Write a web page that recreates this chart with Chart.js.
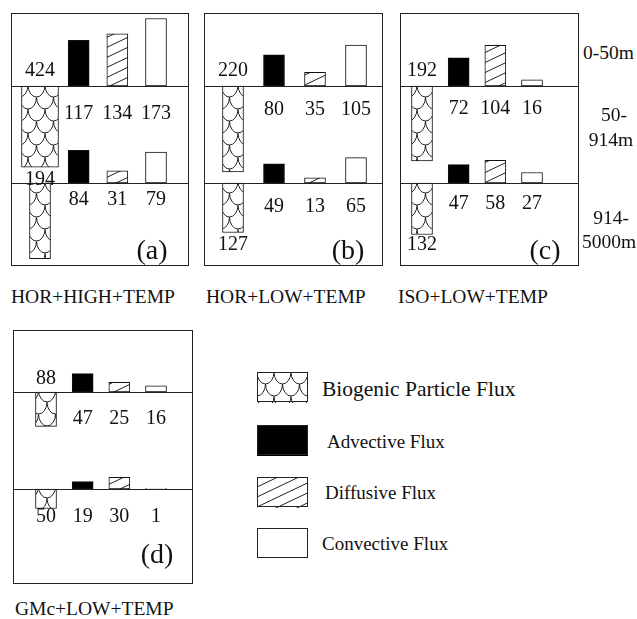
<!DOCTYPE html>
<html>
<head>
<meta charset="utf-8">
<script src="https://cdn.jsdelivr.net/npm/chart.js@4.4.1/dist/chart.umd.min.js"></script>
<style>
  body { margin: 0; background: #fff; width: 637px; height: 619px; position: relative; overflow: hidden;
         font-family: "Liberation Serif", "Times New Roman", serif; color: #111; }
  canvas.panel { position: absolute; }
  .txt { position: absolute; white-space: nowrap; line-height: 24px; height: 24px; }
  .sw { position: absolute; }
</style>
</head>
<body>
<script>
// scenario panels
const panelTags = ['(a)', '(b)', '(c)', '(d)'];
const scenarios = ['HOR+HIGH+TEMP', 'HOR+LOW+TEMP', 'ISO+LOW+TEMP', 'GMc+LOW+TEMP'];
const fluxNames = ['Biogenic Particle Flux', 'Advective Flux', 'Diffusive Flux', 'Convective Flux'];
const depthBands = [['0-50m'], ['50-', '914m'], ['914-', '5000m']];

// fluxes across the 50 m surface
const biogenic50   = [424, 220, 192, 88];
const advective50  = [117, 80, 72, 47];
const diffusive50  = [134, 35, 104, 25];
const convective50 = [173, 105, 16, 16];

// fluxes across the 914 m surface
const biogenic914   = [194, 127, 132, 50];
const advective914  = [84, 49, 47, 19];
const diffusive914  = [31, 13, 58, 30];
const convective914 = [79, 65, 27, 1];

// layout (pixels) — box, the two level lines, column centres, label offsets from the lines
const PX_PER_UNIT = 0.39;
const boxes = [
  { left: 11,  top: 13,  w: 177, h: 252, lines: [73, 170], cols: [29, 145], lab: [-17, 26, -5, 15], tag: [141, 236], bioWide: 37, bioCap: 208 },
  { left: 204, top: 13,  w: 178, h: 252, lines: [73, 170], cols: [29, 152], lab: [-17, 22, 60, 22], tag: [144, 236] },
  { left: 400, top: 13,  w: 178, h: 252, lines: [73, 170], cols: [22, 132], lab: [-17, 21, 60, 19], tag: [145, 236] },
  { left: 13,  top: 330, w: 179, h: 253, lines: [62, 159], cols: [33, 143], lab: [-15, 25, 26, 26], tag: [144, 223] },
];

const FONT = '"Liberation Serif", "Times New Roman", serif';

function scalesPattern() {
  const W = 17, R = 12;
  const c = document.createElement('canvas');
  c.width = W; c.height = R * 2;
  const g = c.getContext('2d');
  g.fillStyle = '#fff'; g.fillRect(0, 0, c.width, c.height);
  g.strokeStyle = '#222'; g.lineWidth = 1;
  const rows = [[-R, [0, W]], [0, [W / 2]], [R, [0, W]], [2 * R, [W / 2]]];
  rows.forEach(([cy, xs]) => xs.forEach(cx => {
    g.beginPath();
    g.ellipse(cx, cy, W / 2, R, 0, 0, Math.PI);
    g.stroke();
  }));
  return g.createPattern(c, 'repeat');
}

function hatchPattern() {
  const W = 21, H = 10;
  const c = document.createElement('canvas');
  c.width = W; c.height = H;
  const g = c.getContext('2d');
  g.fillStyle = '#fff'; g.fillRect(0, 0, W, H);
  g.strokeStyle = '#222'; g.lineWidth = 1;
  [-H, 0, H].forEach(dy => {
    g.beginPath(); g.moveTo(0, H + dy); g.lineTo(W, dy); g.stroke();
  });
  return g.createPattern(c, 'repeat');
}

const fills = [scalesPattern(), '#000', hatchPattern(), '#fff'];

function addText(str, x, y, size, align) {
  const d = document.createElement('div');
  d.className = 'txt';
  d.textContent = str;
  d.style.fontSize = size + 'px';
  d.style.top = (y - 12) + 'px';
  if (align === 'center') { d.style.left = (x - 100) + 'px'; d.style.width = '200px'; d.style.textAlign = 'center'; }
  else d.style.left = x + 'px';
  document.body.appendChild(d);
}

const panelDeco = {
  id: 'panelDeco',
  afterDatasetsDraw(chart, args, o) {
    const { ctx, scales: { x, y } } = chart;
    const b = o.box;
    ctx.save();
    ctx.strokeStyle = '#222';
    ctx.lineWidth = 1;
    ctx.strokeRect(0.5, 0.5, b.w, b.h);
    [o.base1, o.base2].forEach(v => {
      const py = Math.round(y.getPixelForValue(v)) + 0.5;
      ctx.beginPath(); ctx.moveTo(0, py); ctx.lineTo(b.w + 1, py); ctx.stroke();
    });
    ctx.fillStyle = '#111';
    ctx.textAlign = 'center';
    ctx.textBaseline = 'alphabetic';
    const S = 20;
    ctx.font = S + 'px ' + FONT;
    const put = (t, col, cy) => ctx.fillText(String(t), x.getPixelForValue(col), cy + 0.34 * S);
    const l1 = b.lines[0], l2 = b.lines[1];
    put(o.top[0], 1, l1 + b.lab[0]);
    o.top.slice(1).forEach((v, k) => put(v, k + 2, l1 + b.lab[1]));
    put(o.deep[0], 1, l2 + b.lab[2]);
    o.deep.slice(1).forEach((v, k) => put(v, k + 2, l2 + b.lab[3]));
    ctx.font = '28px ' + FONT;
    ctx.fillText(o.tag, b.tag[0], b.tag[1] + 0.34 * 28);
    ctx.restore();
  }
};

boxes.forEach((b, i) => {
  const cv = document.createElement('canvas');
  cv.className = 'panel';
  cv.width = b.w + 1; cv.height = b.h + 1;
  cv.style.left = b.left + 'px'; cv.style.top = b.top + 'px';
  document.body.appendChild(cv);

  const yMax = b.h / PX_PER_UNIT;
  const base1 = (b.h - b.lines[0]) / PX_PER_UNIT;
  const base2 = (b.h - b.lines[1]) / PX_PER_UNIT;
  const step = (b.cols[1] - b.cols[0]) / 3;
  const xMin = 1 - b.cols[0] / step;
  const xMax = xMin + b.w / step;

  const top = [biogenic50[i], advective50[i], diffusive50[i], convective50[i]];
  const deep = [biogenic914[i], advective914[i], diffusive914[i], convective914[i]];
  const up = (base, vals) => vals.map((v, k) => ({ x: k + 2, y: [base, base + v] }));
  const common = { borderColor: '#111', borderWidth: 1, borderSkipped: false, grouped: false };

  new Chart(cv, {
    type: 'bar',
    data: {
      datasets: [
        { ...common, data: up(base1, top.slice(1)), backgroundColor: fills.slice(1), barThickness: 21 },
        { ...common, data: [{ x: 1, y: [base1 - Math.min(top[0], b.bioCap || Infinity), base1] }],
          backgroundColor: fills[0], barThickness: b.bioWide || 21 },
        { ...common, data: up(base2, deep.slice(1)), backgroundColor: fills.slice(1), barThickness: 21 },
        { ...common, data: [{ x: 1, y: [base2 - deep[0], base2] }], backgroundColor: fills[0], barThickness: 21 },
      ],
    },
    options: {
      responsive: false,
      animation: false,
      devicePixelRatio: 1,
      layout: { padding: { right: 1, bottom: 1 } },
      plugins: {
        legend: { display: false },
        tooltip: { enabled: false },
        panelDeco: { box: b, base1, base2, top, deep, tag: panelTags[i] },
      },
      scales: {
        x: { type: 'linear', display: false, offset: false, min: xMin, max: xMax },
        y: { display: false, min: 0, max: yMax },
      },
    },
    plugins: [panelDeco],
  });
});

// scenario captions
[[11, 297], [206, 297], [398, 297], [15, 609]].forEach(([x, y], i) => addText(scenarios[i], x, y, 19.5));

// depth bands on the right
addText(depthBands[0][0], 583, 53, 19.5);
addText(depthBands[1][0], 614, 115, 19.5, 'center');
addText(depthBands[1][1], 611, 140, 19.5, 'center');
addText(depthBands[2][0], 611, 218, 19.5, 'center');
addText(depthBands[2][1], 609, 242, 19.5, 'center');

// legend
const legendRows = [
  { y: 372, tx: 322, ty: 389, size: 21.5 },
  { y: 425, tx: 327, ty: 442, size: 19 },
  { y: 477, tx: 325, ty: 493, size: 19 },
  { y: 528, tx: 322, ty: 544, size: 19 },
];
legendRows.forEach((r, i) => {
  const c = document.createElement('canvas');
  c.className = 'sw';
  c.width = 51; c.height = 31;
  c.style.left = '257px'; c.style.top = r.y + 'px';
  document.body.appendChild(c);
  const g = c.getContext('2d');
  g.fillStyle = fills[i]; g.fillRect(0, 0, 51, 31);
  g.strokeStyle = '#222'; g.lineWidth = 1; g.strokeRect(0.5, 0.5, 50, 29);
  addText(fluxNames[i], r.tx, r.ty, r.size);
});
</script>
</body>
</html>
